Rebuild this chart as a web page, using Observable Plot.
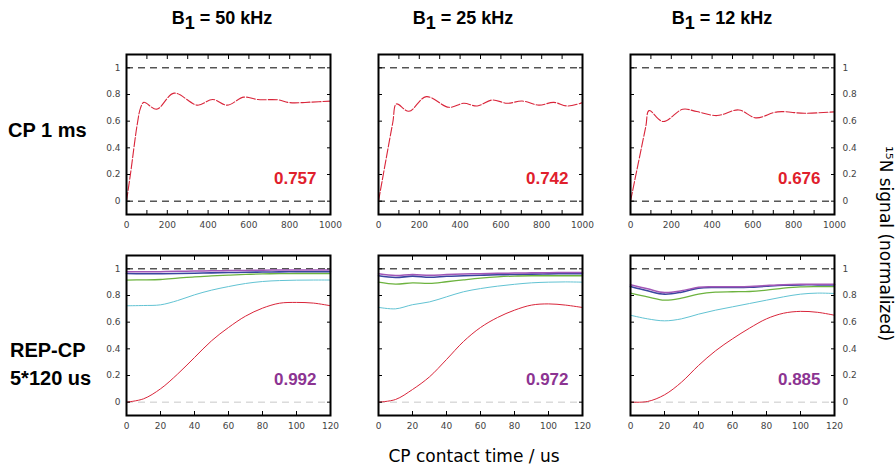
<!DOCTYPE html>
<html>
<head>
<meta charset="utf-8">
<script src="https://cdn.jsdelivr.net/npm/d3@7"></script>
<script src="https://cdn.jsdelivr.net/npm/@observablehq/plot@0.6"></script>
<style>
  html, body { margin: 0; padding: 0; background: #fff; }
  #root { position: relative; width: 896px; height: 472px; overflow: hidden; background: #fff; }
  .panel { position: absolute; }
  #overlay { position: absolute; left: 0; top: 0; }
</style>
</head>
<body>
<div id="root">
  <svg id="overlay" width="896" height="472"></svg>
</div>
<script>
// ---------- labels ----------
const columnTitles = ["50 kHz", "25 kHz", "12 kHz"];
const rowLabels = [["CP 1 ms"], ["REP-CP", "5*120 us"]];
const xTitle = "CP contact time / us";
const yTitle = "¹⁵N signal (normalized)";

// ---------- ticks ----------
const yTicks = [0, 0.2, 0.4, 0.6, 0.8, 1];
const cpTicks = [0, 100, 200, 300, 400, 500, 600, 700, 800, 900, 1000];
const cpTickLabels = [0, 200, 400, 600, 800, 1000];
const repTicks = [0, 20, 40, 60, 80, 100, 120];

// ---------- top row: CP 1 ms ----------
const cpTime50 = [0, 20, 53, 69, 85, 148, 233, 348, 422, 493, 575, 644, 742, 800, 906, 1000];
const cpSig50  = [0, 0.21, 0.58, 0.70, 0.741, 0.69, 0.81, 0.72, 0.763, 0.72, 0.78, 0.762, 0.76, 0.739, 0.743, 0.75];
const cpTime25 = [0, 70, 88, 149, 234, 345, 418, 484, 557, 631, 704, 786, 859, 925, 1000];
const cpSig25  = [0, 0.59, 0.729, 0.674, 0.784, 0.704, 0.734, 0.714, 0.759, 0.734, 0.751, 0.72, 0.741, 0.714, 0.739];
const cpTime12 = [0, 75, 91, 160, 256, 325, 424, 531, 614, 721, 853, 1000];
const cpSig12  = [0, 0.56, 0.679, 0.597, 0.689, 0.672, 0.642, 0.684, 0.625, 0.67, 0.659, 0.67];
const cpValues = ["0.757", "0.742", "0.676"];

// ---------- bottom row: REP-CP 5*120 us (repetitions 1..5) ----------
const repTime = [0, 10, 20, 30, 40, 50, 60, 70, 80, 90, 100, 110, 120];
// 50 kHz
const rep50Red    = [0, 0.025, 0.10, 0.21, 0.335, 0.46, 0.56, 0.645, 0.705, 0.742, 0.748, 0.743, 0.723];
const rep50Cyan   = [0.723, 0.725, 0.73, 0.762, 0.805, 0.84, 0.867, 0.89, 0.905, 0.912, 0.915, 0.916, 0.916];
const rep50Green  = [0.916, 0.917, 0.92, 0.93, 0.94, 0.947, 0.953, 0.958, 0.962, 0.964, 0.965, 0.965, 0.965];
const rep50Blue   = [0.965, 0.963, 0.963, 0.965, 0.967, 0.97, 0.972, 0.974, 0.976, 0.977, 0.978, 0.978, 0.978];
const rep50Purple = [0.978, 0.978, 0.979, 0.981, 0.983, 0.985, 0.987, 0.988, 0.99, 0.991, 0.991, 0.992, 0.992];
// 25 kHz
const rep25Red    = [0, 0.02, 0.095, 0.19, 0.32, 0.455, 0.56, 0.635, 0.69, 0.728, 0.737, 0.728, 0.71];
const rep25Cyan   = [0.711, 0.70, 0.731, 0.752, 0.79, 0.828, 0.852, 0.87, 0.884, 0.895, 0.90, 0.902, 0.90];
const rep25Green  = [0.90, 0.885, 0.895, 0.891, 0.903, 0.917, 0.93, 0.94, 0.946, 0.948, 0.948, 0.948, 0.948];
const rep25Blue   = [0.948, 0.935, 0.945, 0.937, 0.944, 0.948, 0.952, 0.956, 0.958, 0.96, 0.962, 0.963, 0.963];
const rep25Purple = [0.963, 0.95, 0.958, 0.951, 0.957, 0.961, 0.964, 0.966, 0.968, 0.97, 0.971, 0.972, 0.972];
// 12 kHz
const rep12Red    = [0, 0.005, 0.055, 0.15, 0.275, 0.385, 0.475, 0.555, 0.625, 0.667, 0.681, 0.674, 0.652];
const rep12Cyan   = [0.652, 0.625, 0.61, 0.625, 0.66, 0.69, 0.715, 0.74, 0.765, 0.79, 0.81, 0.818, 0.815];
const rep12Green  = [0.818, 0.79, 0.765, 0.78, 0.81, 0.825, 0.828, 0.83, 0.84, 0.855, 0.865, 0.867, 0.867];
const rep12Blue   = [0.867, 0.835, 0.81, 0.825, 0.855, 0.86, 0.86, 0.862, 0.87, 0.877, 0.88, 0.88, 0.88];
const rep12Purple = [0.88, 0.85, 0.822, 0.835, 0.862, 0.865, 0.866, 0.868, 0.875, 0.881, 0.884, 0.885, 0.885];
const repValues = ["0.992", "0.972", "0.885"];

// ---------- styling ----------
const RED = "#d9253a";
const seriesColors = { red: "#d9253a", cyan: "#62c3d3", green: "#6db33f", blue: "#3a46a0", purple: "#a257b6" };
const seriesWidths = { red: 1, cyan: 1, green: 1.3, blue: 1.6, purple: 1.5 };
const valueRed = "#e0202c";
const valuePurple = "#8c3492";

const colLeft = [126, 378, 630];
const rowTop = [54, 255];
const frameW = 204, frameH = 160;
const mL = 40, mR = 46, mT = 4, mB = 24;
const fmt = d => String(d);

const root = document.getElementById("root");

function zip(xs, ys) { return xs.map((x, i) => ({ t: x, v: ys[i] })); }

function panel({ col, row, lines, xDomain, xTicks, xLabels, value, valueColor, zeroColor }) {
  const labelSide = col === 0 ? "left" : col === 2 ? "right" : null;
  const marks = [
    Plot.ruleY([1], { stroke: "#000", strokeDasharray: "7,5", strokeWidth: 1 }),
    Plot.ruleY([0], { stroke: zeroColor, strokeDasharray: "7,5", strokeWidth: 1 }),
    ...lines.map(l => Plot.line(l.data, {
      x: "t", y: "v", stroke: l.color, strokeWidth: l.width,
      strokeDasharray: l.dash, curve: "catmull-rom"
    })),
    Plot.axisX(xTicks, { anchor: "bottom", tickSize: -4, tickFormat: () => "", label: null }),
    Plot.axisX(xTicks, { anchor: "top", tickSize: -4, tickFormat: () => "", label: null }),
    Plot.axisY(yTicks, { anchor: "left", tickSize: -4, tickFormat: () => "", label: null }),
    Plot.axisY(yTicks, { anchor: "right", tickSize: -4, tickFormat: () => "", label: null }),
    Plot.axisX(xLabels, { anchor: "bottom", tickSize: 0, tickPadding: 7, label: null, fill: "#444", tickFormat: fmt }),
    labelSide ? Plot.axisY(yTicks, { anchor: labelSide, tickSize: 0, tickPadding: labelSide === "left" ? 6 : 8, label: null, fill: "#444", tickFormat: fmt }) : null,
    Plot.frame({ stroke: "#000", strokeWidth: 2 }),
    Plot.text([value], {
      text: d => d, frameAnchor: "bottom-right", textAnchor: "end", lineAnchor: "bottom",
      dx: -14, dy: -31, fill: valueColor, fontSize: 17, fontWeight: "bold",
      fontFamily: "Liberation Sans, Arial, sans-serif"
    })
  ];
  const svg = Plot.plot({
    width: frameW + mL + mR,
    height: frameH + mT + mB,
    marginLeft: mL, marginRight: mR, marginTop: mT, marginBottom: mB,
    x: { domain: xDomain },
    y: { domain: [-0.1, 1.1] },
    style: { fontFamily: "DejaVu Sans, sans-serif", fontSize: "9px", background: "transparent", overflow: "visible", color: "#000" },
    marks
  });
  const div = document.createElement("div");
  div.className = "panel";
  div.style.left = (colLeft[col] - mL) + "px";
  div.style.top = (rowTop[row] - mT) + "px";
  div.appendChild(svg);
  root.appendChild(div);
}

const cpSets = [[cpTime50, cpSig50], [cpTime25, cpSig25], [cpTime12, cpSig12]];
cpSets.forEach(([t, s], col) => panel({
  col, row: 0,
  lines: [{ data: zip(t, s), color: RED, width: 1.1, dash: "9,2" }],
  xDomain: [0, 1000], xTicks: cpTicks, xLabels: cpTickLabels,
  value: cpValues[col], valueColor: valueRed, zeroColor: "#000"
}));

const repSets = [
  { red: rep50Red, cyan: rep50Cyan, green: rep50Green, blue: rep50Blue, purple: rep50Purple },
  { red: rep25Red, cyan: rep25Cyan, green: rep25Green, blue: rep25Blue, purple: rep25Purple },
  { red: rep12Red, cyan: rep12Cyan, green: rep12Green, blue: rep12Blue, purple: rep12Purple }
];
const drawOrder = ["red", "cyan", "green", "blue", "purple"];
repSets.forEach((set, col) => panel({
  col, row: 1,
  lines: drawOrder.map(k => ({ data: zip(repTime, set[k]), color: seriesColors[k], width: seriesWidths[k], dash: null })),
  xDomain: [0, 120], xTicks: repTicks, xLabels: repTicks,
  value: repValues[col], valueColor: valuePurple, zeroColor: "#c8c8c8"
}));

// ---------- overlay text ----------
const ov = d3.select("#overlay");
const titleX = [222, 463, 722];
columnTitles.forEach((t, i) => {
  const txt = ov.append("text")
    .attr("x", titleX[i]).attr("y", 24)
    .attr("text-anchor", "middle")
    .attr("font-family", "Liberation Sans, Arial, sans-serif")
    .attr("font-weight", "bold").attr("font-size", 18);
  txt.append("tspan").text("B");
  txt.append("tspan").attr("dy", 5).text("1");
  txt.append("tspan").attr("dy", -5).text(" = " + t);
});
ov.append("text").attr("x", 8).attr("y", 137)
  .attr("font-family", "Liberation Sans, Arial, sans-serif").attr("font-weight", "bold").attr("font-size", 20)
  .text(rowLabels[0][0]);
rowLabels[1].forEach((t, i) => {
  ov.append("text").attr("x", 10).attr("y", 357 + i * 28)
    .attr("font-family", "Liberation Sans, Arial, sans-serif").attr("font-weight", "bold").attr("font-size", 20)
    .text(t);
});
ov.append("text").attr("x", 474).attr("y", 462).attr("text-anchor", "middle")
  .attr("font-family", "DejaVu Sans, sans-serif").attr("font-size", 17)
  .text(xTitle);
ov.append("text").attr("transform", "translate(880,146) rotate(90)")
  .attr("font-family", "DejaVu Sans, sans-serif").attr("font-size", 17)
  .text(yTitle);
</script>
</body>
</html>
